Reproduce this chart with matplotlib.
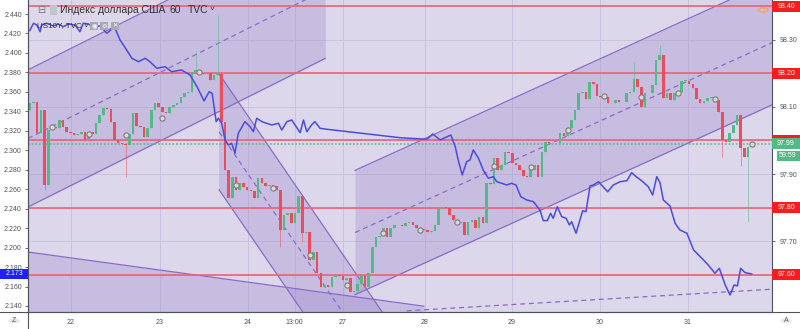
import numpy as np
import matplotlib.pyplot as plt
from matplotlib.patches import Rectangle, Circle
from matplotlib.lines import Line2D
import matplotlib.transforms as mtrans

# ---- data ----
# DXY hourly closes, bar index 0..196
dxy_close = [98.111, 98.114, 98.022, 98.091, 97.867, 98.031, 98.040, 98.038, 98.061, 98.040,
             98.025, 98.022, 98.016, 98.019, 98.025, 98.001, 98.025, 98.019, 98.052, 98.076,
             98.097, 98.095, 98.055, 98.001, 97.992, 97.989, 97.986, 98.019, 98.082, 98.043,
             98.040, 98.010, 98.037, 98.091, 98.111, 98.100, 98.085, 98.082, 98.100, 98.105,
             98.111, 98.129, 98.141, 98.144, 98.204, 98.210, 98.201, 98.198, 98.201, 98.180,
             98.195, 98.197, 98.055, 97.912, 97.829, 97.891, 97.853, 97.873, 97.862, 97.853,
             97.850, 97.829, 97.888, 97.873, 97.864, 97.867, 97.864, 97.853, 97.734, 97.778,
             97.784, 97.754, 97.784, 97.835, 97.725, 97.728, 97.644, 97.668, 97.606, 97.564,
             97.570, 97.564, 97.594, 97.600, 97.597, 97.585, 97.591, 97.549, 97.551, 97.573,
             97.597, 97.564, 97.606, 97.683, 97.713, 97.716, 97.739, 97.713, 97.739, 97.748,
             97.747, 97.745, 97.754, 97.757, 97.748, 97.739, 97.736, 97.734, 97.728, 97.731,
             97.748, 97.796, 97.802, 97.800, 97.778, 97.763, 97.754, 97.757, 97.719, 97.757,
             97.763, 97.739, 97.772, 97.754, 97.873, 97.870, 97.948, 97.912, 97.927, 97.966,
             97.964, 97.933, 97.927, 97.912, 97.894, 97.892, 97.912, 97.927, 97.891, 97.966,
             97.995, 97.993, 97.992, 97.991, 98.022, 98.013, 98.037, 98.061, 98.091, 98.141,
             98.143, 98.123, 98.174, 98.168, 98.132, 98.130, 98.129, 98.111, 98.110, 98.120,
             98.114, 98.113, 98.141, 98.144, 98.183, 98.159, 98.100, 98.141, 98.142, 98.165,
             98.239, 98.254, 98.126, 98.141, 98.120, 98.141, 98.144, 98.177, 98.178, 98.168,
             98.156, 98.123, 98.111, 98.117, 98.126, 98.129, 98.120, 98.085, 98.001, 97.995,
             98.022, 98.046, 98.076, 97.977, 97.951, 97.980, 97.989]
dxy_first_open = 98.091
wick_high = {45: 98.263, 51: 98.373, 164: 98.233, 171: 98.284}
wick_low = {4: 97.853, 26: 97.891, 68: 97.683, 74: 97.698, 188: 97.951, 193: 97.924, 195: 97.757}

marker_idx = list(range(6, 197, 10))
marker_vals = [98.041, 98.019, 98.015, 98.066, 98.205, 97.867, 97.858, 97.659, 97.570, 97.725,
               97.734, 97.758, 97.925, 97.922, 98.031, 98.132, 98.128, 98.140, 98.122, 97.989]

# US10Y (left scale)
us10y_x = [0, 1.0, 1.9, 2.8, 3.2, 4.6, 6.4, 7.7, 9.1, 10.5, 12.3, 13.6, 14.5, 15.9, 17.2, 19.1,
           20.9, 22.2, 23.1, 24.5, 26.3, 27.7, 29.5, 31.3, 32.6, 34.5, 36.7, 38.5, 41.2, 43.5,
           45.4, 47.3, 48.7, 49.5, 50.6, 51.2, 52.1, 53.0, 53.9, 54.8, 55.7, 56.6, 58.4, 59.8,
           60.7, 61.6, 63.0, 64.3, 65.7, 67.5, 68.4, 69.8, 71.1, 72.0, 73.4, 74.3, 75.2, 76.5,
           77.4, 78.8, 80.6, 100.5, 107.8, 109.4, 111.4, 114.3, 115.5, 116.3, 117.4, 118.6,
           119.5, 120.4, 121.8, 123.1, 124.5, 125.8, 126.8, 128.1, 129.5, 130.8, 132.0, 133.3,
           134.9, 136.7, 138.5, 139.4, 140.5, 141.4, 142.1, 143.2, 144.4, 145.6, 146.5, 147.1,
           148.3, 150.1, 151.0, 152.1, 153.0, 154.4, 155.6, 156.9, 158.4, 160.3, 162.1, 163.4,
           164.6, 166.1, 167.9, 169.1, 170.2, 171.1, 172.0, 173.8, 175.2, 176.5, 178.4, 180.2,
           182.0, 184.2, 186.0, 187.2, 188.8, 190.1, 191.2, 192.1, 193.0, 194.2, 196.0]
us10y_vals = [2.4230, 2.4305, 2.4287, 2.4218, 2.4287, 2.4305, 2.4277, 2.4297, 2.4270, 2.4297,
              2.4287, 2.4218, 2.4305, 2.4297, 2.4270, 2.4277, 2.4202, 2.4243, 2.4256, 2.4133,
              2.4030, 2.3945, 2.3910, 2.3945, 2.3910, 2.3842, 2.3859, 2.3807, 2.3825, 2.3773,
              2.3653, 2.3507, 2.3602, 2.3585, 2.3294, 2.3329, 2.3277, 2.3106, 2.3054, 2.3072,
              2.2969, 2.3174, 2.3294, 2.3242, 2.3191, 2.3329, 2.3294, 2.3277, 2.3260, 2.3277,
              2.3208, 2.3294, 2.3311, 2.3260, 2.3181, 2.3311, 2.3191, 2.3260, 2.3294, 2.3226,
              2.3216, 2.3129, 2.3113, 2.3167, 2.3106, 2.3157, 2.3037, 2.2900, 2.2746, 2.2883,
              2.2900, 2.3003, 2.2918, 2.2797, 2.2712, 2.2729, 2.2677, 2.2661, 2.2643, 2.2661,
              2.2643, 2.2523, 2.2489, 2.2472, 2.2386, 2.2277, 2.2277, 2.2352, 2.2301, 2.2420,
              2.2318, 2.2301, 2.2232, 2.2266, 2.2147, 2.2379, 2.2369, 2.2633, 2.2643, 2.2677,
              2.2626, 2.2574, 2.2643, 2.2677, 2.2687, 2.2770, 2.2729, 2.2687, 2.2626, 2.2540,
              2.2729, 2.2667, 2.2489, 2.2428, 2.2250, 2.2181, 2.2147, 2.1976, 2.1907, 2.1821,
              2.1736, 2.1787, 2.1616, 2.1513, 2.1616, 2.1606, 2.1787, 2.1742, 2.1729]

day_pos = [11.1, 35.3, 59.2, 71.9, 84.9, 107.3, 130.9, 154.8, 178.7]
day_labels = ['22', '23', '24', '13:00', '27', '28', '29', '30', '31']

dxy_levels = [98.40, 98.20, 98.00, 97.80, 97.60]
dxy_last = 97.99
us10y_last = 2.173

# channels: start bar, end bar, upper price at start, lower price at start, slope per bar
channels = [(-0.5, 80.2, 98.210, 97.802, 0.00548),
            (51.4, 104.0, 98.198, 97.853, -0.0160),
            (88.3, 202.0, 97.911, 97.541, 0.00499),
            (-0.5, 107.0, 97.668, 97.150, -0.00150)]
extra_dash_x = [102.3, 201.0]
extra_dash_y = [97.493, 97.557]

# ---- styling ----
FONT = ['Liberation Sans', 'DejaVu Sans']
TXT = '#4b4f5c'
GREEN = '#53b987'
RED = '#eb4d5c'
CH_LINE = '#8a6cc8'
AXC = '#50535e'

fig = plt.figure(figsize=(8, 3.29), dpi=100)
fig.patch.set_facecolor('white')
L, R, B = 28 / 800, 772 / 800, 17 / 329
ax = fig.add_axes([L, B, R - L, 1 - B])
ax.set_facecolor('#dcd7ea')
ax.set_xlim(-0.49, 201.5)
ax.set_ylim(97.4895, 98.418)

# channels
for x0, x1, up0, lo0, sl in channels:
    xs = np.array([x0, x1])
    up = up0 + sl * (xs - x0)
    lo = lo0 + sl * (xs - x0)
    ax.fill_between(xs, lo, up, color='#8c73c6', alpha=0.25, lw=0, zorder=1)
    ax.plot(xs, up, color=CH_LINE, lw=0.9, zorder=2)
    ax.plot(xs, lo, color=CH_LINE, lw=0.9, zorder=2)
    ax.plot(xs, (up + lo) / 2, color=CH_LINE, lw=0.9, ls=(0, (4, 3)), zorder=2)
ax.plot(extra_dash_x, extra_dash_y, color=CH_LINE, lw=0.9, ls=(0, (4, 3)), zorder=2)

# grid
ax.set_xticks(day_pos)
ax.set_xticklabels(day_labels)
dxy_ticks = np.arange(97.6, 98.41, 0.1)
ax.set_yticks(dxy_ticks)
# levels that carry a coloured price box hide their plain tick label
ax.set_yticklabels(['' if any(abs(v - lv) < 0.02 for lv in dxy_levels) else f'{v:.2f}'
                    for v in dxy_ticks])
ax.grid(True, color='#cbc3de', lw=0.7, zorder=0)
ax.set_axisbelow(True)

# horizontal levels
for lv in dxy_levels:
    ax.axhline(lv, color='#ee6276', lw=1.2, zorder=3)
ax.axhline(dxy_last, color=GREEN, lw=1.3, ls=(0, (1, 1)), zorder=3, alpha=0.8)

# candles
c = np.array(dxy_close)
o = np.array([dxy_first_open] + dxy_close[:-1])
idx = np.arange(len(c))
cols = np.where(c >= o, GREEN, RED)
hi = np.maximum(o, c)
lo = np.minimum(o, c)
for k, v in wick_high.items():
    hi[k] = v
for k, v in wick_low.items():
    lo[k] = v
ax.vlines(idx, lo, hi, colors=cols, lw=0.6, alpha=0.6, zorder=4)
ax.bar(idx, np.maximum(np.abs(c - o), 0.0015), bottom=np.minimum(o, c),
       width=0.7, color=cols, zorder=4)
ax.scatter(marker_idx, marker_vals, s=14, facecolor='#d9d9d9', edgecolor='#7d7d7d',
           lw=0.8, zorder=5)

for s in ['top', 'left']:
    ax.spines[s].set_visible(False)
for s in ['right', 'bottom']:
    ax.spines[s].set_color(AXC)
    ax.spines[s].set_linewidth(0.8)

# US10Y on the left scale
ax2 = ax.twinx()
ax2.set_ylim(2.1338, 2.4544)
ax2.plot(us10y_x, us10y_vals, color='#4b4be0', lw=1.1, zorder=5)
us_ticks = np.arange(2.14, 2.441, 0.02)
ax2.set_yticks(us_ticks)
ax2.set_yticklabels([f'{v:.3f}' for v in us_ticks])
ax2.tick_params(axis='y', left=True, labelleft=True, right=False, labelright=False,
                colors=AXC, length=2.5, width=0.6, pad=2, labelsize=5, labelcolor=TXT)
for s in ['top', 'right', 'bottom']:
    ax2.spines[s].set_visible(False)
ax2.spines['left'].set_color(AXC)
ax2.spines['left'].set_linewidth(0.8)

# DXY scale on the right (after twinx, which moves ticks)
ax.tick_params(axis='y', left=False, labelleft=False, right=True, labelright=True,
               colors=AXC, length=2.5, width=0.6, pad=3, labelsize=5, labelcolor=TXT)
ax.tick_params(axis='x', length=0, pad=5, labelsize=5, labelcolor=TXT)
for lab in ax.get_xticklabels() + ax.get_yticklabels() + ax2.get_yticklabels():
    lab.set_family(FONT)

# price boxes on the right scale
tr = mtrans.blended_transform_factory(ax.transAxes, ax.transData)
bw = 28 / 744
bh = 11 * (98.418 - 97.4895) / 312
for lv in dxy_levels:
    ax.add_patch(Rectangle((1.0, lv - bh / 2), bw, bh, transform=tr, fc='#f51d1d',
                           ec='none', clip_on=False, zorder=6))
    if lv != 98.00:  # this one sits under the last-price box
        ax.text(1.0 + bw / 2, lv, f'{lv:.2f}', transform=tr, ha='center', va='center',
                color='white', fontsize=5, family=FONT, zorder=7, clip_on=False)
ax.add_patch(Rectangle((1.0, dxy_last - bh / 2), bw, bh, transform=tr, fc=GREEN,
                       ec='none', clip_on=False, zorder=8))
ax.text(1.0 + bw / 2, dxy_last, f'{dxy_last:.2f}', transform=tr, ha='center', va='center',
        color='white', fontsize=5, family=FONT, zorder=9, clip_on=False)
y_timer = dxy_last - 12 * (98.418 - 97.4895) / 312
ax.add_patch(Rectangle((1.0 + 4 / 744, y_timer - bh / 2), bw - 4 / 744, bh, transform=tr,
                       fc=GREEN, ec='white', lw=0.6, clip_on=False, zorder=8))
ax.text(1.0 + bw / 2 + 2 / 744, y_timer, '59:59', transform=tr, ha='center', va='center',
        color='white', fontsize=5, family=FONT, zorder=9, clip_on=False)

# price box on the left scale
tr2 = mtrans.blended_transform_factory(ax2.transAxes, ax2.transData)
bh2 = 10 * (2.4544 - 2.1338) / 312
ax2.add_patch(Rectangle((-28 / 744, us10y_last - bh2 / 2), 28 / 744, bh2, transform=tr2,
                        fc='#1f1fff', ec='none', clip_on=False, zorder=8))
ax2.text(-14 / 744, us10y_last, f'{us10y_last:.3f}', transform=tr2, ha='center',
         va='center', color='white', fontsize=5, family=FONT, zorder=9, clip_on=False)

# frame lines reaching the figure edges
fig.add_artist(Line2D([L, L], [0, 1], color=AXC, lw=0.8))
fig.add_artist(Line2D([0, 1], [B, B], color=AXC, lw=0.8))


def fx(px):
    return px / 800


def fy(py):
    return 1 - py / 329


# legend text at the top
fig.text(fx(37), fy(10), '\u229f', fontsize=7, color='#777777', va='center', family=FONT)
fig.add_artist(Rectangle((fx(50), fy(15)), 7 / 800, 10 / 329, transform=fig.transFigure,
                         fc='#c4c4cc', ec='none'))
fig.text(fx(60), fy(10), 'Индекс доллара США', fontsize=7.5, color='#333333',
         va='center', family=FONT)
fig.text(fx(170), fy(10), '60', fontsize=7.5, color='#333333', va='center', family=FONT)
fig.text(fx(188), fy(10), 'TVC', fontsize=7.5, color='#333333', va='center', family=FONT)
fig.text(fx(210), fy(10), '\u02c5', fontsize=6, color='#333333', va='center', family=FONT)
fig.text(fx(37), fy(26), 'US10Y, TVC \u02c5', fontsize=5.8, color='#333333', va='center',
         family=FONT)
for px, g in [(94, '\u25c9'), (104, '\u2699'), (115, '\u2715')]:
    fig.add_artist(Rectangle((fx(px - 4), fy(30)), 8 / 800, 8 / 329,
                             transform=fig.transFigure, fc='#a9a9b3', ec='none'))
    fig.text(fx(px), fy(26), g, fontsize=4.5, color='white', ha='center', va='center',
             family=['DejaVu Sans'])

# small round buttons
fig.add_artist(Circle((fx(763), fy(10)), 5 / 800, transform=fig.transFigure,
                      fc='none', ec='#f5a35c', lw=0.9))
fig.text(fx(763), fy(10), '!', fontsize=5.5, color='#f5a35c', ha='center', va='center',
         family=FONT)
fig.add_artist(Circle((fx(14), fy(321)), 6 / 800, transform=fig.transFigure,
                      fc='#e9e9ef', ec='none'))
fig.text(fx(14), fy(321), 'Z', fontsize=5, color='#555555', ha='center', va='center',
         family=FONT)
fig.add_artist(Circle((fx(786), fy(321)), 6 / 800, transform=fig.transFigure,
                      fc='#e9e9ef', ec='none'))
fig.text(fx(786), fy(321), 'A', fontsize=5, color='#555555', ha='center', va='center',
         family=FONT)

fig.savefig('out.png', dpi=100)
